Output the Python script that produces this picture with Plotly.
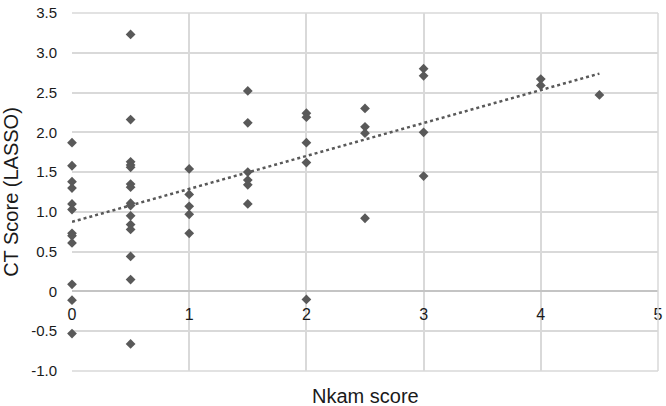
import numpy as np
import plotly.graph_objects as go

# Data
nkam_0 = [1.87, 1.58, 1.38, 1.30, 1.10, 1.03, 0.73, 0.70, 0.61, 0.09, -0.11, -0.53]
nkam_05 = [3.23, 2.16, 1.63, 1.59, 1.56, 1.35, 1.31, 1.11, 1.08, 0.95, 0.84, 0.78, 0.44, 0.15, -0.66]
nkam_1 = [1.54, 1.22, 1.07, 0.97, 0.73]
nkam_15 = [2.52, 2.12, 1.50, 1.40, 1.34, 1.10]
nkam_2 = [2.24, 2.19, 1.87, 1.62, -0.10]
nkam_25 = [2.30, 2.07, 1.99, 0.92]
nkam_3 = [2.80, 2.71, 2.00, 1.45]
nkam_4 = [2.67, 2.59]
nkam_45 = [2.47]

groups = [(0, nkam_0), (0.5, nkam_05), (1, nkam_1), (1.5, nkam_15), (2, nkam_2),
          (2.5, nkam_25), (3, nkam_3), (4, nkam_4), (4.5, nkam_45)]

x_vals = []
y_vals = []
for gx, ys in groups:
    x_vals += [gx] * len(ys)
    y_vals += ys

y_ticks = [-1.0, -0.5, 0, 0.5, 1.0, 1.5, 2.0, 2.5, 3.0, 3.5]
y_ticktext = ["-1.0", "-0.5", "0", "0.5", "1.0", "1.5", "2.0", "2.5", "3.0", "3.5"]
x_ticks = [0, 1, 2, 3, 4, 5]
x_ticktext = ["0", "1", "2", "3", "4", "5"]

slope, intercept = np.polyfit(x_vals, y_vals, 1)
trend_x = [min(x_vals), max(x_vals)]
trend_y = [intercept + slope * t for t in trend_x]

fig = go.Figure()
fig.add_trace(go.Scatter(
    x=trend_x, y=trend_y, mode="lines",
    line=dict(color="#595959", width=2.5, dash="dot"),
    hoverinfo="skip", showlegend=False, cliponaxis=False,
))
fig.add_trace(go.Scatter(
    x=x_vals, y=y_vals, mode="markers",
    marker=dict(symbol="diamond", size=7.5, color="#595959", line=dict(width=0)),
    showlegend=False, cliponaxis=False,
))

grid = "#d9d9d9"
fig.update_layout(
    width=666, height=406,
    margin=dict(l=72, r=8, t=13, b=35),
    paper_bgcolor="white", plot_bgcolor="white",
    font=dict(family="Liberation Sans, Arial, sans-serif", color="#1a1a1a"),
    xaxis=dict(
        range=[0, 5], tickvals=x_ticks, ticktext=x_ticktext,
        showgrid=True, gridcolor=grid, gridwidth=1.5,
        zeroline=False, showline=False,
        anchor="free", position=1 / 4.5,
        ticks="", ticklabelstandoff=12, automargin=False,
        tickfont=dict(size=16),
    ),
    yaxis=dict(
        range=[-1, 3.5], tickvals=y_ticks, ticktext=y_ticktext,
        showgrid=True, gridcolor=grid, gridwidth=1.5,
        zeroline=True, zerolinecolor="#c4c4c4", zerolinewidth=1.8,
        showline=False, ticks="", ticklabelstandoff=14, automargin=False,
        tickfont=dict(size=15),
        title=dict(text="CT Score (LASSO)", font=dict(size=20), standoff=8),
    ),
    annotations=[dict(
        text="Nkam score", x=0.5, y=0, xref="paper", yref="paper",
        yshift=-12, yanchor="top", showarrow=False, font=dict(size=20),
    )],
)
fig.add_shape(type="line", xref="paper", yref="paper", x0=0, x1=1, y0=1, y1=1,
              line=dict(color=grid, width=1.5))
fig.add_shape(type="line", xref="paper", yref="paper", x0=1, x1=1, y0=0, y1=1,
              line=dict(color=grid, width=1.5))
fig.add_shape(type="line", xref="paper", yref="paper", x0=0, x1=1, y0=0, y1=0,
              line=dict(color=grid, width=1.5))

fig.write_html(
    "out.html",
    config={"displayModeBar": False},
    post_script="document.body.style.margin='0';document.body.style.padding='0';",
)
